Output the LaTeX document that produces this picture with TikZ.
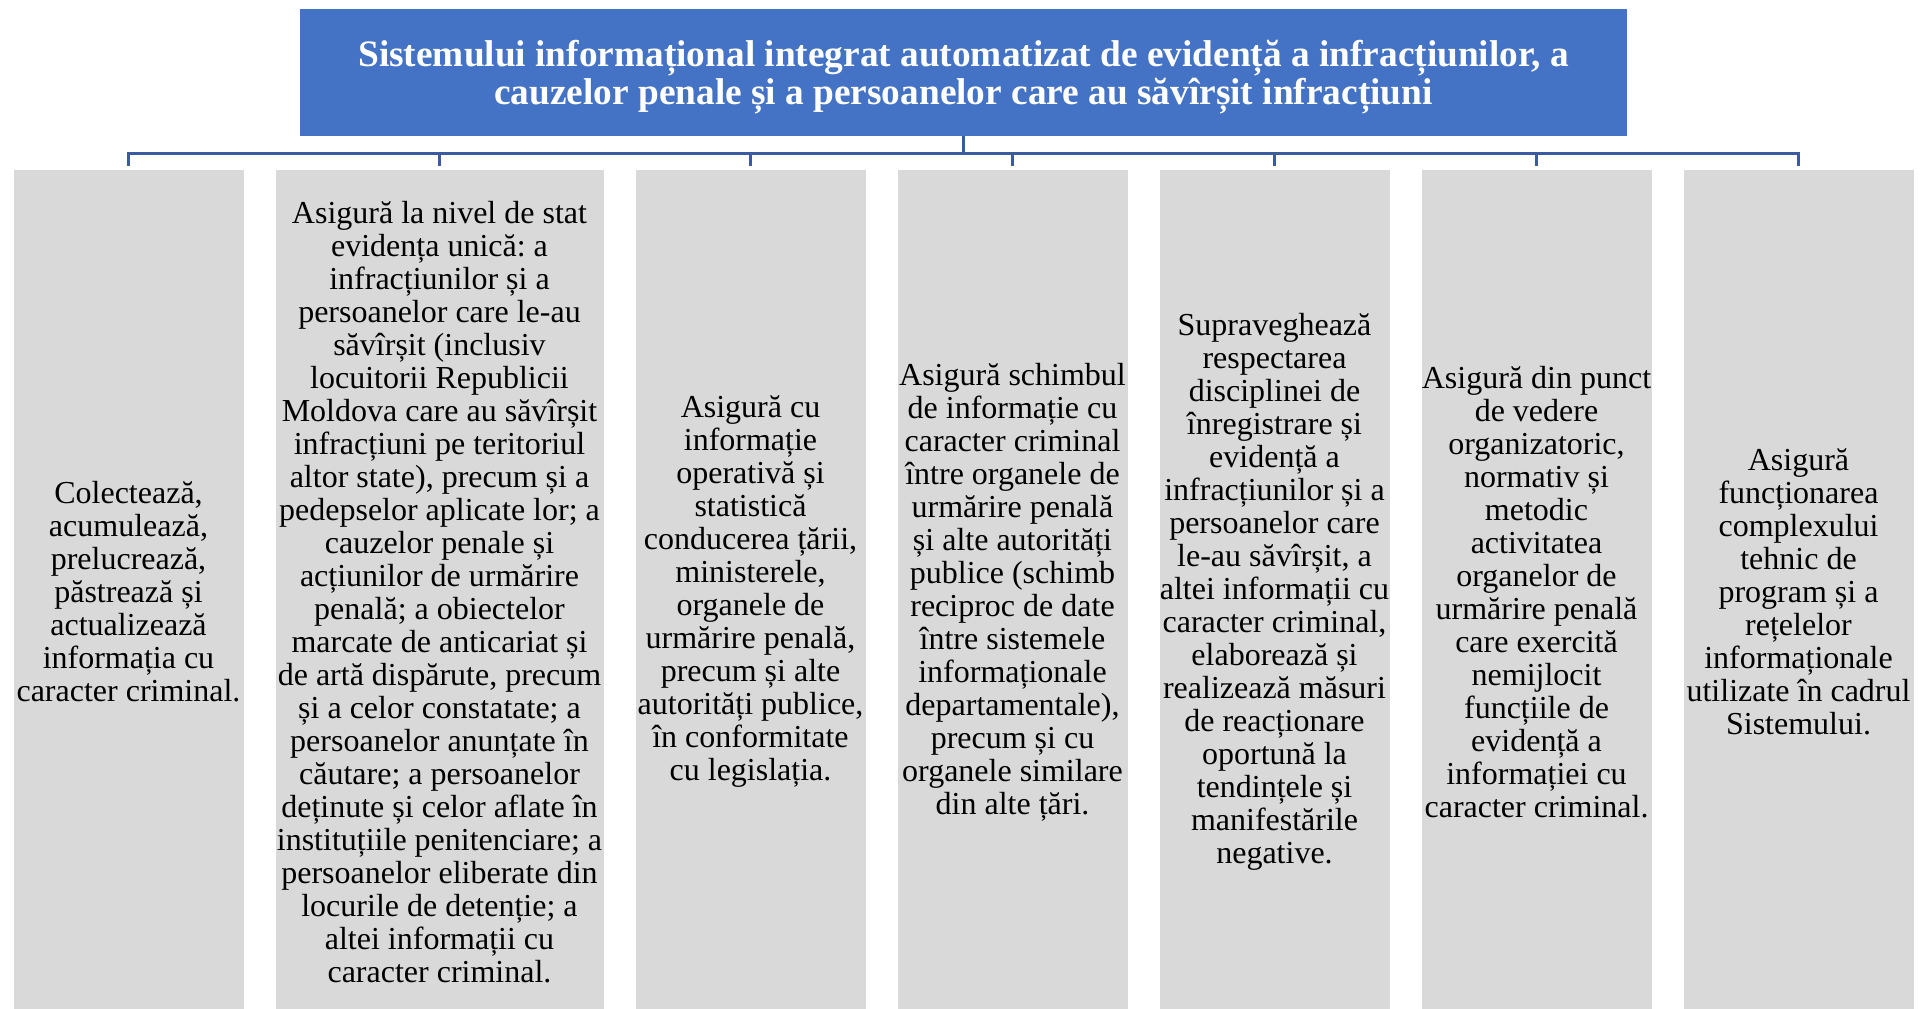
\documentclass[tikz,border=0pt]{standalone}
\usepackage{fontspec}
\setmainfont{Liberation Serif}
\usepackage{tikz}
\usetikzlibrary{positioning,calc}
\definecolor{headblue}{HTML}{4472C4}
\definecolor{cellgray}{HTML}{D9D9D9}
\definecolor{linkblue}{HTML}{3A5BA0}
\frenchspacing
\tikzset{
  headbox/.style={fill=headblue,inner sep=0pt,outer sep=0pt,
    minimum width=663.5pt,minimum height=63.7pt},
  headtext/.style={text=white,align=center,inner sep=0pt,
    font=\fontsize{18.66pt}{19pt}\selectfont\bfseries},
  cell/.style={fill=cellgray,align=center,inner sep=0pt,outer sep=0pt,
    minimum width=115pt,minimum height=422pt,font=\fontsize{16pt}{16.5pt}\selectfont},
  widecell/.style={cell,minimum width=164pt},
  link/.style={draw=linkblue,line width=1.2pt}
}

\begin{document}
\begin{tikzpicture}[node distance=16pt]
  \useasboundingbox (0,0) rectangle (963pt,-504pt);
  \node[headbox] (sys) at (481.75pt,-36.15pt) {};
  \node[headtext] (systxt) at ([yshift=-2.3pt]sys.center)
    {Sistemului informațional integrat automatizat de evidență a infracțiunilor, a\\
     cauzelor penale și a persoanelor care au săvîrșit infracțiuni};
  % coloanele cu funcțiile sistemului
  \node[cell,anchor=north west] (c1) at (6.75pt,-85pt)
    {Colectează,\\acumulează,\\prelucrează,\\păstrează și\\actualizează\\informația cu\\caracter criminal.};
  \node[widecell,right=of c1] (c2)
    {Asigură la nivel de stat\\evidența unică: a\\infracțiunilor și a\\persoanelor care le-au\\
     săvîrșit (inclusiv\\locuitorii Republicii\\Moldova care au săvîrșit\\infracțiuni pe teritoriul\\
     altor state), precum și a\\pedepselor aplicate lor; a\\cauzelor penale și\\acțiunilor de urmărire\\
     penală; a obiectelor\\marcate de anticariat și\\de artă dispărute, precum\\și a celor constatate; a\\
     persoanelor anunțate în\\căutare; a persoanelor\\deținute și celor aflate în\\instituțiile penitenciare; a\\
     persoanelor eliberate din\\locurile de detenție; a\\altei informații cu\\caracter criminal.};
  \node[cell,right=of c2] (c3)
    {Asigură cu\\informație\\operativă și\\statistică\\conducerea țării,\\ministerele,\\organele de\\
     urmărire penală,\\precum și alte\\autorități publice,\\în conformitate\\cu legislația.};
  \node[cell,right=of c3] (c4)
    {Asigură schimbul\\de informație cu\\caracter criminal\\între organele de\\urmărire penală\\
     și alte autorități\\publice (schimb\\reciproc de date\\între sistemele\\informaționale\\
     departamentale),\\precum și cu\\organele similare\\din alte țări.};
  \node[cell,right=of c4] (c5)
    {Supraveghează\\respectarea\\disciplinei de\\înregistrare și\\evidență a\\infracțiunilor și a\\
     persoanelor care\\le-au săvîrșit, a\\altei informații cu\\caracter criminal,\\elaborează și\\
     realizează măsuri\\de reacționare\\oportună la\\tendințele și\\manifestările\\negative.};
  \node[cell,right=of c5] (c6)
    {Asigură din punct\\de vedere\\organizatoric,\\normativ și\\metodic\\activitatea\\organelor de\\
     urmărire penală\\care exercită\\nemijlocit\\funcțiile de\\evidență a\\informației cu\\caracter criminal.};
  \node[cell,right=of c6] (c7)
    {Asigură\\funcționarea\\complexului\\tehnic de\\program și a\\rețelelor\\informaționale\\
     utilizate în cadrul\\Sistemului.};
  % legaturi
  \coordinate[below=8.75pt of sys.south] (bus);
  \draw[link] (sys.south) -- (bus);
  \foreach \c in {c1,c2,c3,c4,c5,c6,c7}
    \draw[link] (bus) -| ($(\c.north)+(0,2pt)$);
\end{tikzpicture}
\end{document}
